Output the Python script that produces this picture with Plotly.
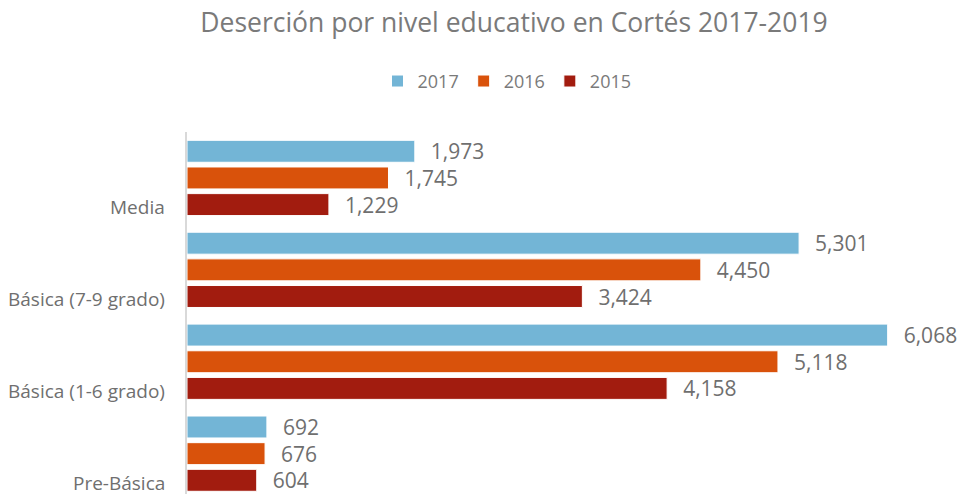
import plotly.graph_objects as go

categories = ["Pre-Básica", "Básica (1-6 grado)", "Básica (7-9 grado)", "Media"]
series_names = ["2015", "2016", "2017"]
values_2015 = [604, 4158, 3424, 1229]
values_2016 = [676, 5118, 4450, 1745]
values_2017 = [692, 6068, 5301, 1973]
colors = {"2015": "#A21C0F", "2016": "#D9520B", "2017": "#73B5D6"}

FONT = "Open Sans"
PAD = "\u00a0\u00a0\u200a"

fig = go.Figure()
for name, vals in zip(series_names, [values_2015, values_2016, values_2017]):
    fig.add_trace(go.Bar(
        name=name, y=categories, x=vals, orientation="h",
        marker=dict(color=colors[name], line=dict(color="white", width=1)),
        text=[PAD + f"{v:,}" for v in vals], textposition="outside",
        constraintext="none",
        textfont=dict(family=FONT, size=21, color="#6f6f6f"),
        cliponaxis=False,
    ))

for cat in categories:
    fig.add_annotation(
        x=0, xref="paper", xanchor="right", xshift=-20,
        y=cat, yref="y", yanchor="middle", yshift=-29,
        text=cat, showarrow=False,
        font=dict(family=FONT, size=19, color="#6f6f6f"),
    )

fig.update_layout(
    width=960, height=494,
    margin=dict(l=187, r=25, t=131.6, b=0),
    paper_bgcolor="white", plot_bgcolor="white",
    barmode="group", bargap=0.13, bargroupgap=0.176,
    title=dict(text="Deserción por nivel educativo en Cortés 2017-2019",
               x=514 / 960, xref="container", xanchor="center", y=0.955, yanchor="middle",
               font=dict(family=FONT, size=26.5, color="#7a7a7a")),
    legend=dict(orientation="h", x=(507 - 187) / 748, xanchor="center",
                y=1.14, yanchor="middle", yref="paper", traceorder="reversed",
                font=dict(family=FONT, size=18, color="#7a7a7a"),
                itemwidth=30),
    showlegend=True,
    font=dict(family=FONT),
)
fig.update_xaxes(range=[0, 6478], visible=False, showgrid=False, zeroline=False)
fig.update_yaxes(range=[-0.439, 3.5], showticklabels=False, ticks="",
                 showline=True, linecolor="#d9d9d9", linewidth=2,
                 showgrid=False, zeroline=False)

fig.write_html("out.html", config={"displayModeBar": False},
               post_script="document.body.style.margin='0';document.body.style.overflow='hidden';")
